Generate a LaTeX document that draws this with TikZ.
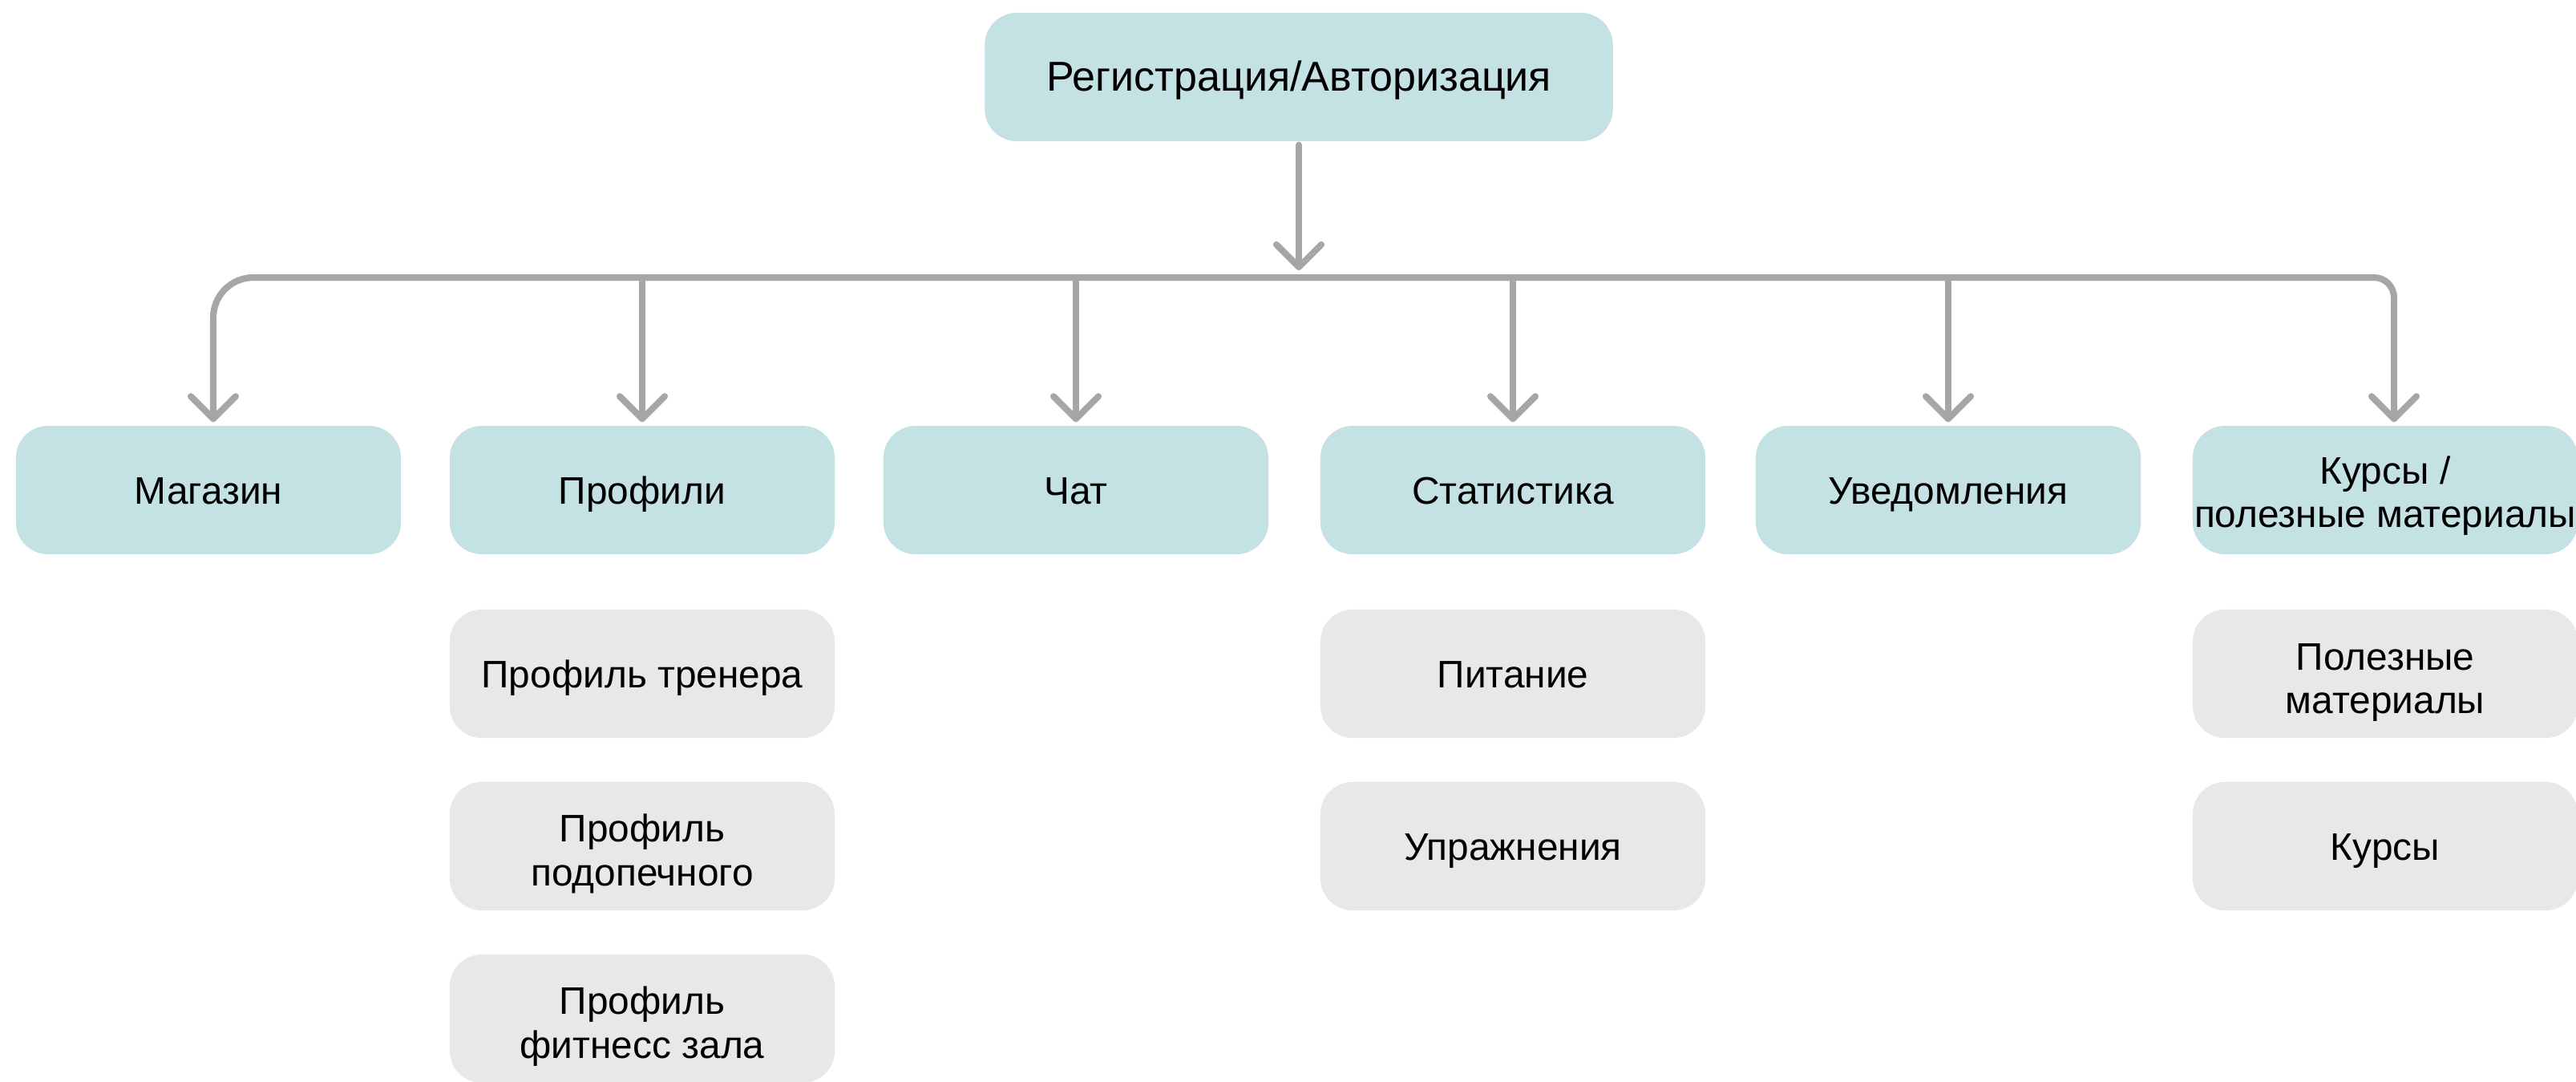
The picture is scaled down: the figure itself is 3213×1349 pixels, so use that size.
\documentclass[tikz,border=0pt]{standalone}
\usepackage{fontspec}
\setmainfont{Liberation Sans}
\usetikzlibrary{arrows.meta}
\definecolor{teal1}{HTML}{C4E1E3}
\definecolor{grey1}{HTML}{E8E8E8}
\definecolor{arrowc}{HTML}{A6A6A6}
\newcommand{\mystrut}[1]{\rule{0pt}{#1}}
\tikzset{
  base/.style={rounded corners=0.4cm, minimum width=4.8cm, minimum height=1.6cm,
    inner sep=0pt, align=center, text=black,
    font=\fontsize{13.6}{15.6}\selectfont,
    execute at begin node={\rule{0pt}{0.5cm}},
    execute at end node={\rule[-0.15cm]{0pt}{0.15cm}}},
  mainbox/.style={base, fill=teal1},
  subbox/.style={base, fill=grey1},
  conn/.style={draw=arrowc, line width=2.3pt, line cap=round},
  arr/.style={conn, -{Straight Barb[length=0.28cm, width=0.56cm, round]}, shorten >=0.04cm},
}
\begin{document}
\begin{tikzpicture}[x=0.01cm, y=-0.01cm]
\useasboundingbox (0,0) rectangle (3213,1349);
\node[mainbox, minimum width=7.83cm, font=\fontsize{14.8}{17}\selectfont] (top) at (1620,96) {Регистрация/Авторизация};
\node[mainbox] (mag) at (260,611) {Магазин};
\node[mainbox] (prof) at (801,611) {Профили};
\node[mainbox] (chat) at (1342,611) {Чат};
\node[mainbox] (stat) at (1887,611) {Статистика};
\node[mainbox] (uved) at (2430,611) {Уведомления};
\node[mainbox] (kurs) at (2975,611) {\mystrut{0.54cm}Курсы /\\полезные материалы};
\node[subbox] (p1) at (801,840) {Профиль тренера};
\node[subbox] (p2) at (801,1055) {\mystrut{0.59cm}Профиль\\подопечного};
\node[subbox] (p3) at (801,1270) {\mystrut{0.59cm}Профиль\\фитнесс зала};
\node[subbox] (s1) at (1887,840) {Питание};
\node[subbox] (s2) at (1887,1055) {Упражнения};
\node[subbox] (k1) at (2975,840) {\mystrut{0.6cm}Полезные\\материалы};
\node[subbox] (k2) at (2975,1055) {Курсы};
\coordinate (bus) at (1620,346);
\draw[arr, rounded corners=0.5cm] (bus) -| ([xshift=0.06cm]mag.north);
\draw[arr, rounded corners=0.25cm] (bus) -| ([xshift=0.11cm]kurs.north);
\draw[arr, shorten <=0.04cm] (top.south) -- ([yshift=0.05cm]bus);
\draw[arr] (prof.north |- bus) -- (prof.north);
\draw[arr] (chat.north |- bus) -- (chat.north);
\draw[arr] (stat.north |- bus) -- (stat.north);
\draw[arr] (uved.north |- bus) -- (uved.north);
\end{tikzpicture}
\end{document}
